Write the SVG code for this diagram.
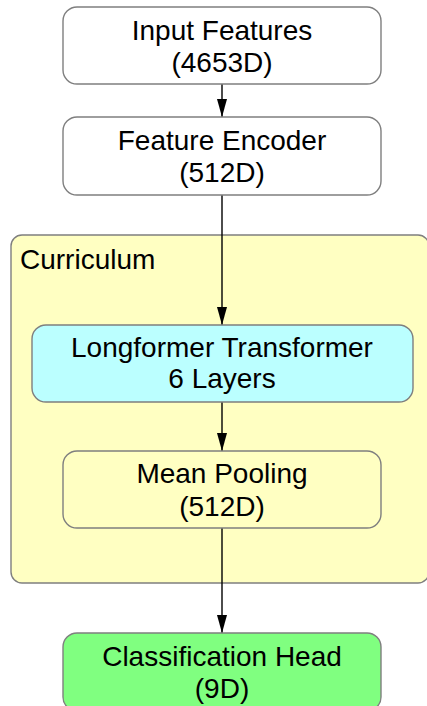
<svg xmlns="http://www.w3.org/2000/svg" width="427" height="706" viewBox="0 0 427 706">
<defs>
<style>
.box{stroke:#7f7f7f;stroke-width:1.4}
.t{font-family:"Liberation Sans",Arial,Helvetica,sans-serif;font-size:28px;fill:#000;text-anchor:middle}
.lbl{font-family:"Liberation Sans",Arial,Helvetica,sans-serif;font-size:28px;fill:#000}
.edge{stroke:#000;stroke-width:1.4;fill:none}
</style>
<marker id="ah" viewBox="0 0 18 10" refX="18" refY="5" markerUnits="userSpaceOnUse" markerWidth="18" markerHeight="10" orient="auto">
<path d="M0,0 L18,5 L0,10 Z" fill="#000"/>
</marker>
</defs>
<rect width="427" height="706" fill="#fff"/>
<g id="cluster_curriculum">
<rect class="box" x="11" y="235" width="418" height="348" rx="11" fill="#ffffc2"/>
<text class="lbl" x="20" y="269">Curriculum</text>
</g>
<g id="connectors">
<line class="edge" x1="222" y1="84" x2="222" y2="117" marker-end="url(#ah)"/>
<line class="edge" x1="222" y1="195" x2="222" y2="325" marker-end="url(#ah)"/>
<line class="edge" x1="222" y1="402" x2="222" y2="451" marker-end="url(#ah)"/>
<line class="edge" x1="222" y1="528" x2="222" y2="633" marker-end="url(#ah)"/>
</g>
<g id="input_features">
<rect class="box" x="63" y="7" width="318" height="77" rx="14" fill="#fff"/>
<text class="t" x="222" y="40">Input Features</text>
<text class="t" x="222" y="72">(4653D)</text>
</g>
<g id="feature_encoder">
<rect class="box" x="63" y="117" width="318" height="78" rx="14" fill="#fff"/>
<text class="t" x="222" y="150">Feature Encoder</text>
<text class="t" x="222" y="182">(512D)</text>
</g>
<g id="longformer">
<rect class="box" x="32" y="325" width="381" height="77" rx="14" fill="#bbffff"/>
<text class="t" x="222" y="357">Longformer Transformer</text>
<text class="t" x="222" y="388">6 Layers</text>
</g>
<g id="mean_pooling">
<rect class="box" x="63" y="451" width="318" height="77" rx="14" fill="#ffffc2"/>
<text class="t" x="222" y="483">Mean Pooling</text>
<text class="t" x="222" y="516">(512D)</text>
</g>
<g id="classification_head">
<rect class="box" x="63" y="633" width="318" height="78" rx="14" fill="#80ff80"/>
<text class="t" x="222" y="666">Classification Head</text>
<text class="t" x="222" y="698">(9D)</text>
</g>
</svg>
